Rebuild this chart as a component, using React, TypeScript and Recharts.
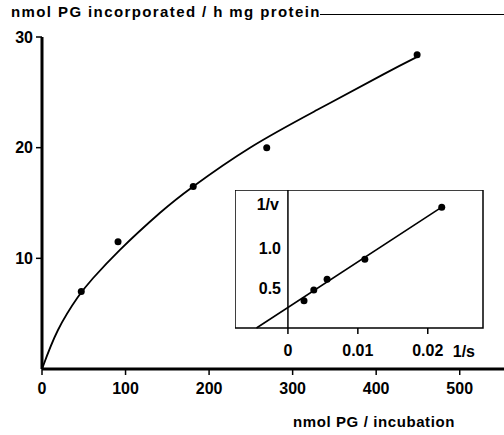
import React from "react";
import {
  ComposedChart,
  Line,
  Scatter,
  XAxis,
  YAxis,
  ReferenceArea,
  ReferenceLine,
} from "recharts";

// main plot: PG incorporation vs PG per incubation
const pgAdded = [47, 91, 181, 269, 449];
const pgRate = [7.0, 11.5, 16.5, 20.0, 28.4];
// fitted curve
const curveX = [0, 19, 43, 61, 93, 141, 181, 249, 329, 408, 449];
const curveY = [0, 3.5, 6.5, 8.2, 10.75, 14.1, 16.5, 20.0, 23.4, 26.6, 28.2];
const mainXTicks = [0, 100, 200, 300, 400, 500];
const mainYTicks = [10, 20, 30];

// inset: double reciprocal plot
const invS = [0.0023, 0.0037, 0.0056, 0.011, 0.022];
const invV = [0.34, 0.475, 0.61, 0.86, 1.51];
const lineInvS = [-0.0045, 0.022];
const lineInvV = [0, 1.51];
const insetXTicks = [0, 0.01, 0.02];
const insetXLabels = ["0", "0.01", "0.02"];
const insetYTicks = [0.5, 1.0];
const insetYLabels = ["0.5", "1.0"];

const FONT = "'Liberation Sans', Arial, sans-serif";

const points = pgAdded.map((x, i) => ({ x, y: pgRate[i] }));
const curve = curveX.map((x, i) => ({ x, y: curveY[i] }));
const insetPoints = invS.map((x, i) => ({ x, y: invV[i] }));
const insetLine = lineInvS.map((x, i) => ({ x, y: lineInvV[i] }));

const dot = (p: any) => <circle cx={p.cx} cy={p.cy} r={3.5} fill="#000" />;

const tickStyle = { fill: "#000", fontSize: 16, fontWeight: 700, fontFamily: FONT };

function InsetYTick(props: any) {
  const i = insetYTicks.indexOf(props.payload.value);
  return (
    <text x={46} y={props.y} dy={6} textAnchor="end" {...tickStyle}>
      {insetYLabels[i]}
    </text>
  );
}

export default function App() {
  return (
    <div
      style={{
        position: "absolute",
        left: 0,
        top: 0,
        width: 504,
        height: 435,
        background: "#fff",
        fontFamily: FONT,
        overflow: "hidden",
      }}
    >
      <div
        style={{
          position: "absolute",
          left: 11,
          top: 3,
          fontSize: 15,
          fontWeight: 700,
          letterSpacing: 1.4,
          whiteSpace: "nowrap",
        }}
      >
        nmol PG incorporated / h mg protein
      </div>
      <div
        style={{
          position: "absolute",
          left: 320,
          top: 14,
          width: 184,
          height: 0,
          borderTop: "1.5px solid #000",
        }}
      />
      <div
        style={{
          position: "absolute",
          left: 293,
          top: 413,
          fontSize: 15,
          fontWeight: 700,
          letterSpacing: 0.6,
          whiteSpace: "nowrap",
        }}
      >
        nmol PG / incubation
      </div>

      <div style={{ position: "absolute", left: 0, top: 0 }}>
        <ComposedChart
          width={504}
          height={435}
          margin={{ top: 37, right: 0, bottom: 0, left: 0 }}
        >
          <XAxis
            dataKey="x"
            type="number"
            domain={[0, 553]}
            ticks={mainXTicks}
            allowDataOverflow
            height={66}
            axisLine={{ stroke: "#000", strokeWidth: 3 }}
            tickLine={{ stroke: "#000", strokeWidth: 1.5 }}
            tickSize={6}
            tickMargin={8}
            tick={tickStyle}
          />
          <YAxis
            dataKey="y"
            type="number"
            domain={[0, 30]}
            ticks={mainYTicks}
            width={42}
            axisLine={{ stroke: "#000", strokeWidth: 3 }}
            tickLine={{ stroke: "#000", strokeWidth: 1.5 }}
            tickSize={6}
            tickMargin={3}
            tick={tickStyle}
          />
          <Line
            data={curve}
            dataKey="y"
            type="natural"
            stroke="#000"
            strokeWidth={1.8}
            dot={false}
            isAnimationActive={false}
          />
          <Scatter data={points} dataKey="y" shape={dot} isAnimationActive={false} />
        </ComposedChart>
      </div>

      <div style={{ position: "absolute", left: 235, top: 190 }}>
        <ComposedChart
          width={250}
          height={175}
          margin={{ top: 0, right: 2, bottom: 0, left: 0 }}
        >
          <ReferenceArea
            x1={-0.00757}
            x2={0.0279}
            y1={0}
            y2={1.725}
            fill="none"
            stroke="#000"
            strokeWidth={1.5}
            ifOverflow="visible"
          />
          <XAxis
            dataKey="x"
            type="number"
            domain={[-0.00757, 0.0279]}
            ticks={insetXTicks}
            tickFormatter={(v: number) => insetXLabels[insetXTicks.indexOf(v)]}
            allowDataOverflow
            height={37}
            axisLine={false}
            tickLine={{ stroke: "#000", strokeWidth: 1.5 }}
            tickSize={6}
            tickMargin={11}
            tick={tickStyle}
            label={{
              value: "1/s",
              position: "insideBottomRight",
              offset: 8,
              fill: "#000",
              fontSize: 16,
              fontWeight: 700,
              fontFamily: FONT,
            }}
          />
          <YAxis
            dataKey="y"
            type="number"
            domain={[0, 1.725]}
            ticks={insetYTicks}
            width={50}
            mirror
            axisLine={false}
            tickLine={false}
            tick={<InsetYTick />}
          />
          <ReferenceLine
            x={0}
            stroke="#000"
            strokeWidth={1.5}
            label={{
              value: "1/v",
              position: "insideTopRight",
              offset: 9,
              fill: "#000",
              fontSize: 16,
              fontWeight: 700,
              fontFamily: FONT,
            }}
          />
          <Line
            data={insetLine}
            dataKey="y"
            type="linear"
            stroke="#000"
            strokeWidth={1.6}
            dot={false}
            isAnimationActive={false}
          />
          <Scatter data={insetPoints} dataKey="y" shape={dot} isAnimationActive={false} />
        </ComposedChart>
      </div>
    </div>
  );
}
